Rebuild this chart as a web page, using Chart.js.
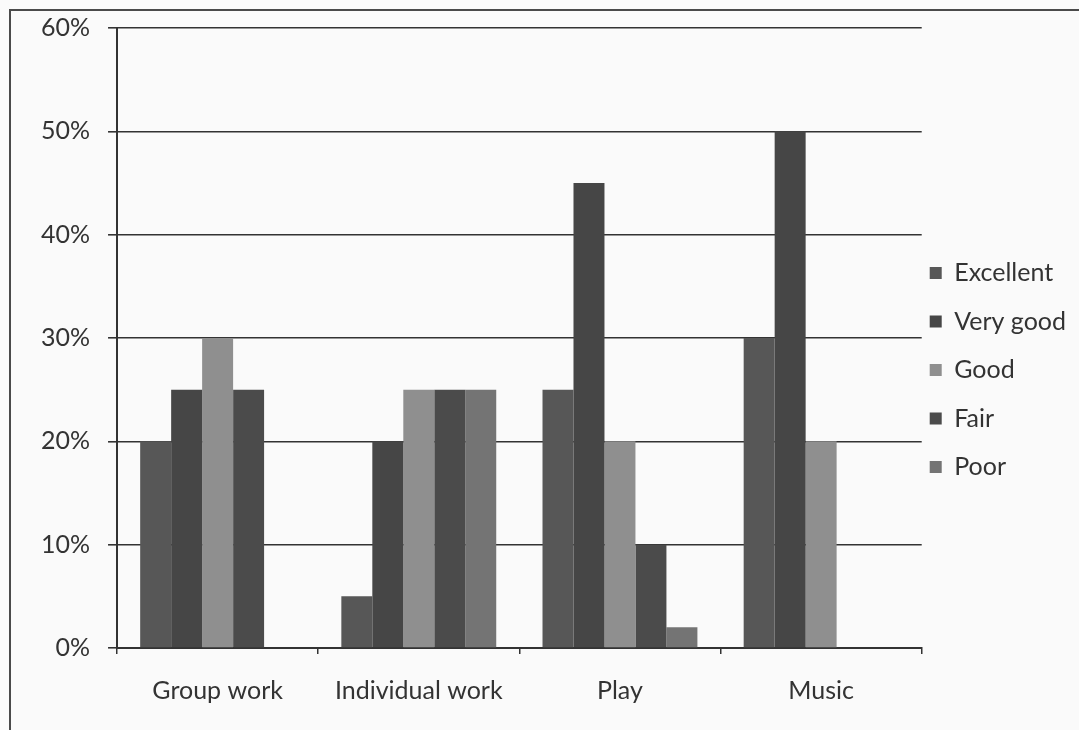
<!DOCTYPE html>
<html>
<head>
<meta charset="utf-8">
<script src="https://cdn.jsdelivr.net/npm/chart.js@4"></script>
<style>
    html, body { margin: 0; padding: 0; background: #fafafa; }
    #wrap { position: relative; width: 1079px; height: 730px; }
    #frame {
        position: absolute; left: 9px; top: 9px; right: 0; bottom: 0;
        border-left: 2px solid #4a4a4a; border-top: 2px solid #4a4a4a;
        pointer-events: none;
    }
</style>
</head>
<body>
<div id="wrap">
    <canvas id="levels-chart"></canvas>
    <div id="frame"></div>
</div>
<script>
const categories = ['Group work', 'Individual work', 'Play', 'Music'];
const excellent = [20, 5, 25, 30];
const veryGood = [25, 20, 45, 50];
const good = [30, 25, 20, 20];
const fair = [25, 25, 10, 0];
const poor = [0, 25, 2, 0];
const yTickLabels = ['0%', '10%', '20%', '30%', '40%', '50%', '60%'];

document.addEventListener('DOMContentLoaded', () => {
    const ctx = document.getElementById('levels-chart').getContext('2d');
    const font = { family: 'Lato', size: 25 };

    new Chart(ctx, {
        type: 'bar',
        data: {
            labels: categories,
            datasets: [
                { label: 'Excellent', data: excellent, backgroundColor: '#575757' },
                { label: 'Very good', data: veryGood, backgroundColor: '#464646' },
                { label: 'Good', data: good, backgroundColor: '#8f8f8f' },
                { label: 'Fair', data: fair, backgroundColor: '#4b4b4b' },
                { label: 'Poor', data: poor, backgroundColor: '#747474' }
            ]
        },
        options: {
            responsive: true,
            maintainAspectRatio: false,
            animation: false,
            layout: { padding: { left: 23, right: 3, top: 5, bottom: 2 } },
            datasets: { bar: { categoryPercentage: 0.77, barPercentage: 1 } },
            scales: {
                x: {
                    grid: { drawOnChartArea: false, color: '#333', lineWidth: 1.5, tickLength: 6 },
                    border: { color: '#333', width: 2 },
                    ticks: { font: font, color: '#333', padding: 22 }
                },
                y: {
                    min: 0,
                    max: 60,
                    grid: { color: '#333', lineWidth: 1.6, tickLength: 9 },
                    border: { color: '#333', width: 2 },
                    ticks: {
                        stepSize: 10,
                        font: { family: 'Lato', size: 25, lineHeight: 0.8 },
                        color: '#333',
                        padding: 18,
                        callback: (v, i) => yTickLabels[i]
                    }
                }
            },
            plugins: {
                tooltip: { enabled: false },
                legend: {
                    position: 'right',
                    title: { display: true, text: '', padding: { top: 8, bottom: 0 } },
                    labels: {
                        boxWidth: 12,
                        boxHeight: 12,
                        padding: 8,
                        color: '#333',
                        font: { family: 'Lato', size: 25, lineHeight: 1.62 },
                        // array text lets the row height follow the font line height
                        generateLabels: chart => Chart.defaults.plugins.legend.labels
                            .generateLabels(chart).map(item => ({ ...item, text: [item.text] }))
                    }
                }
            }
        }
    });
});
</script>
</body>
</html>
